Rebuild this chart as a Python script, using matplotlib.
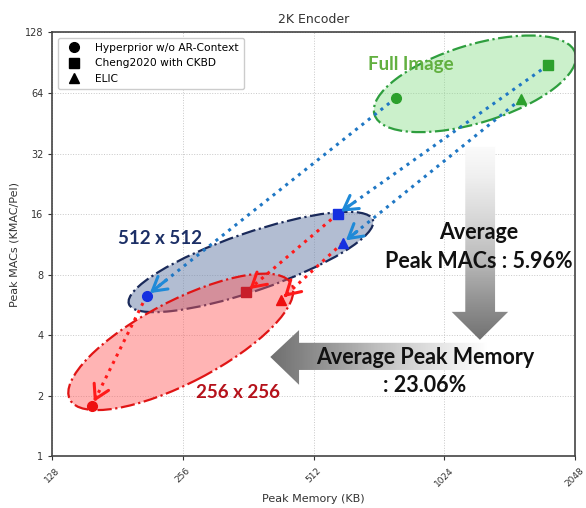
import numpy as np
import matplotlib
matplotlib.use('Agg')
from matplotlib import pyplot as plt
from matplotlib.patches import Ellipse, Polygon
from matplotlib.transforms import ScaledTranslation

# peak memory (KB) / peak MACs (KMAC/Pel) per model
models = ['Hyperprior w/o AR-Context', 'Cheng2020 with CKBD', 'ELIC']
markers = ['o', 's', '^']

mem_full = [791, 1774, 1537]
macs_full = [60.3, 87.9, 59.6]
mem_512 = [211, 581, 597]
macs_512 = [6.29, 16.0, 11.5]
mem_256 = [158, 358, 430]
macs_256 = [1.79, 6.58, 6.0]

xticks = [128, 256, 512, 1024, 2048]
yticks = [1, 2, 4, 8, 16, 32, 64, 128]

fig = plt.figure(figsize=(5.86, 5.08), dpi=100)
ax = fig.add_axes([0.0893, 0.1014, 0.892, 0.835])
ax.set_xscale('log', base=2)
ax.set_yscale('log', base=2)
ax.set_xlim(128, 2048)
ax.set_ylim(1, 128)
ax.set_xticks(xticks)
ax.set_xticklabels([str(t) for t in xticks], rotation=45, fontsize=6.5)
ax.set_yticks(yticks)
ax.set_yticklabels([str(t) for t in yticks], fontsize=7)
ax.minorticks_off()
ax.grid(True, ls=':', lw=0.7, color='#c8c8c8')
ax.set_axisbelow(True)
for s in ax.spines.values():
    s.set_color('#444444')
    s.set_linewidth(1.2)
ax.tick_params(colors='#333333', length=3)
ax.set_xlabel('Peak Memory (KB)', fontsize=8, color='#333333')
ax.set_ylabel('Peak MACs (KMAC/Pel)', fontsize=8, color='#333333')
ax.set_title('2K Encoder', fontsize=9, color='#333333', pad=7)


def add_ellipse(cx, cy, w, h, ang, face, edge):
    # size in inches, centred on a data point
    tr = fig.dpi_scale_trans + ScaledTranslation(cx, cy, ax.transData)
    e = Ellipse((0, 0), w, h, angle=ang, transform=tr, facecolor=face,
                edgecolor=edge, lw=1.6, ls='-.', zorder=1)
    ax.add_patch(e)


add_ellipse(1204, 71, 2.10, 0.78, 17, (0.55, 0.87, 0.55, 0.45), '#2e9e3e')
add_ellipse(367, 9.25, 2.58, 0.58, 19, (0.45, 0.53, 0.68, 0.55), '#1a2a5a')
add_ellipse(253, 3.71, 2.50, 0.82, 27.5, (1.0, 0.35, 0.35, 0.45), '#e01515')


def arrow(x0, y0, x1, y1, col, headcol):
    ax.plot([x0, x1], [y0, y1], ls=':', lw=2.2, color=col, zorder=2)
    t = 0.92
    xm = np.exp(np.log(x0) + t * (np.log(x1) - np.log(x0)))
    ym = np.exp(np.log(y0) + t * (np.log(y1) - np.log(y0)))
    ax.annotate('', xy=(x1, y1), xytext=(xm, ym),
                arrowprops=dict(arrowstyle='->,head_length=0.55,head_width=0.32',
                                lw=2.2, color=headcol, shrinkA=0, shrinkB=3,
                                mutation_scale=18), zorder=4)


for i in range(3):
    arrow(mem_full[i], macs_full[i], mem_512[i], macs_512[i], '#1f77c4', '#1f8ad8')
    arrow(mem_512[i], macs_512[i], mem_256[i], macs_256[i], '#ff1a1a', '#ff1a1a')

for i in range(3):
    ax.plot(mem_full[i], macs_full[i], markers[i], color='#2ca02c', ms=7, zorder=3)
    ax.plot(mem_512[i], macs_512[i], markers[i], color='#1530e0', ms=7, zorder=3)
    ax.plot(mem_256[i], macs_256[i], markers[i], color='#ee1111' if i != 1 else '#c81e2a',
            ms=7, zorder=3)

handles = [ax.plot([], [], markers[i], color='black', ms=7)[0] for i in range(3)]
leg = ax.legend(handles, models, loc='upper left', fontsize=7.7, framealpha=1,
                edgecolor='#cccccc', handletextpad=1.0, borderpad=0.5)

ax.text(0.685, 0.925, 'Full Image', transform=ax.transAxes, ha='center', va='center',
        fontsize=13.5, fontweight='bold', color='#62b040', family='Lato', zorder=5)
ax.text(0.206, 0.515, '512 x 512', transform=ax.transAxes, ha='center', va='center',
        fontsize=13.5, fontweight='bold', color='#1c2f66', family='Lato', zorder=5)
ax.text(0.355, 0.15, '256 x 256', transform=ax.transAxes, ha='center', va='center',
        fontsize=13.5, fontweight='bold', color='#b5121b', family='Lato', zorder=5)

# gradient gray arrows on an overlay in axes units
ov = fig.add_axes(ax.get_position(), facecolor='none')
ov.set_xlim(0, 1)
ov.set_ylim(0, 1)
ov.axis('off')

vert = Polygon([(0.790, 0.730), (0.847, 0.730), (0.847, 0.341), (0.872, 0.341),
                (0.818, 0.275), (0.764, 0.341), (0.790, 0.341)],
               closed=True, facecolor='none', edgecolor='none')
ov.add_patch(vert)
grad_v = np.linspace(0, 1, 256).reshape(-1, 1)
im = ov.imshow(grad_v, cmap='Greys', vmin=-0.05, vmax=1.6, extent=(0.76, 0.88, 0.27, 0.735),
               origin='upper', aspect='auto', zorder=1)
im.set_clip_path(vert)

horiz = Polygon([(0.417, 0.2346), (0.472, 0.298), (0.472, 0.268), (0.83, 0.268),
                 (0.83, 0.204), (0.472, 0.204), (0.472, 0.169)],
                closed=True, facecolor='none', edgecolor='none')
ov.add_patch(horiz)
grad_h = (np.linspace(1, 0, 256) ** 0.8).reshape(1, -1)
im2 = ov.imshow(grad_h, cmap='Greys', vmin=0, vmax=1.55, extent=(0.41, 0.83, 0.16, 0.31),
                aspect='auto', zorder=1)
im2.set_clip_path(horiz)
ov.set_xlim(0, 1)
ov.set_ylim(0, 1)

ov.text(0.815, 0.528, 'Average', ha='center', va='center', fontsize=15.5,
        fontweight='bold', color='#111111', family='Lato', zorder=3)
ov.text(0.815, 0.459, 'Peak MACs : 5.96%', ha='center', va='center', fontsize=15.5,
        fontweight='bold', color='#111111', family='Lato', zorder=3)
ov.text(0.713, 0.233, 'Average Peak Memory', ha='center', va='center', fontsize=15.5,
        fontweight='bold', color='#111111', family='Lato', zorder=3)
ov.text(0.713, 0.167, ': 23.06%', ha='center', va='center', fontsize=15.5,
        fontweight='bold', color='#111111', family='Lato', zorder=3)

fig.savefig('out.png', dpi=100)
